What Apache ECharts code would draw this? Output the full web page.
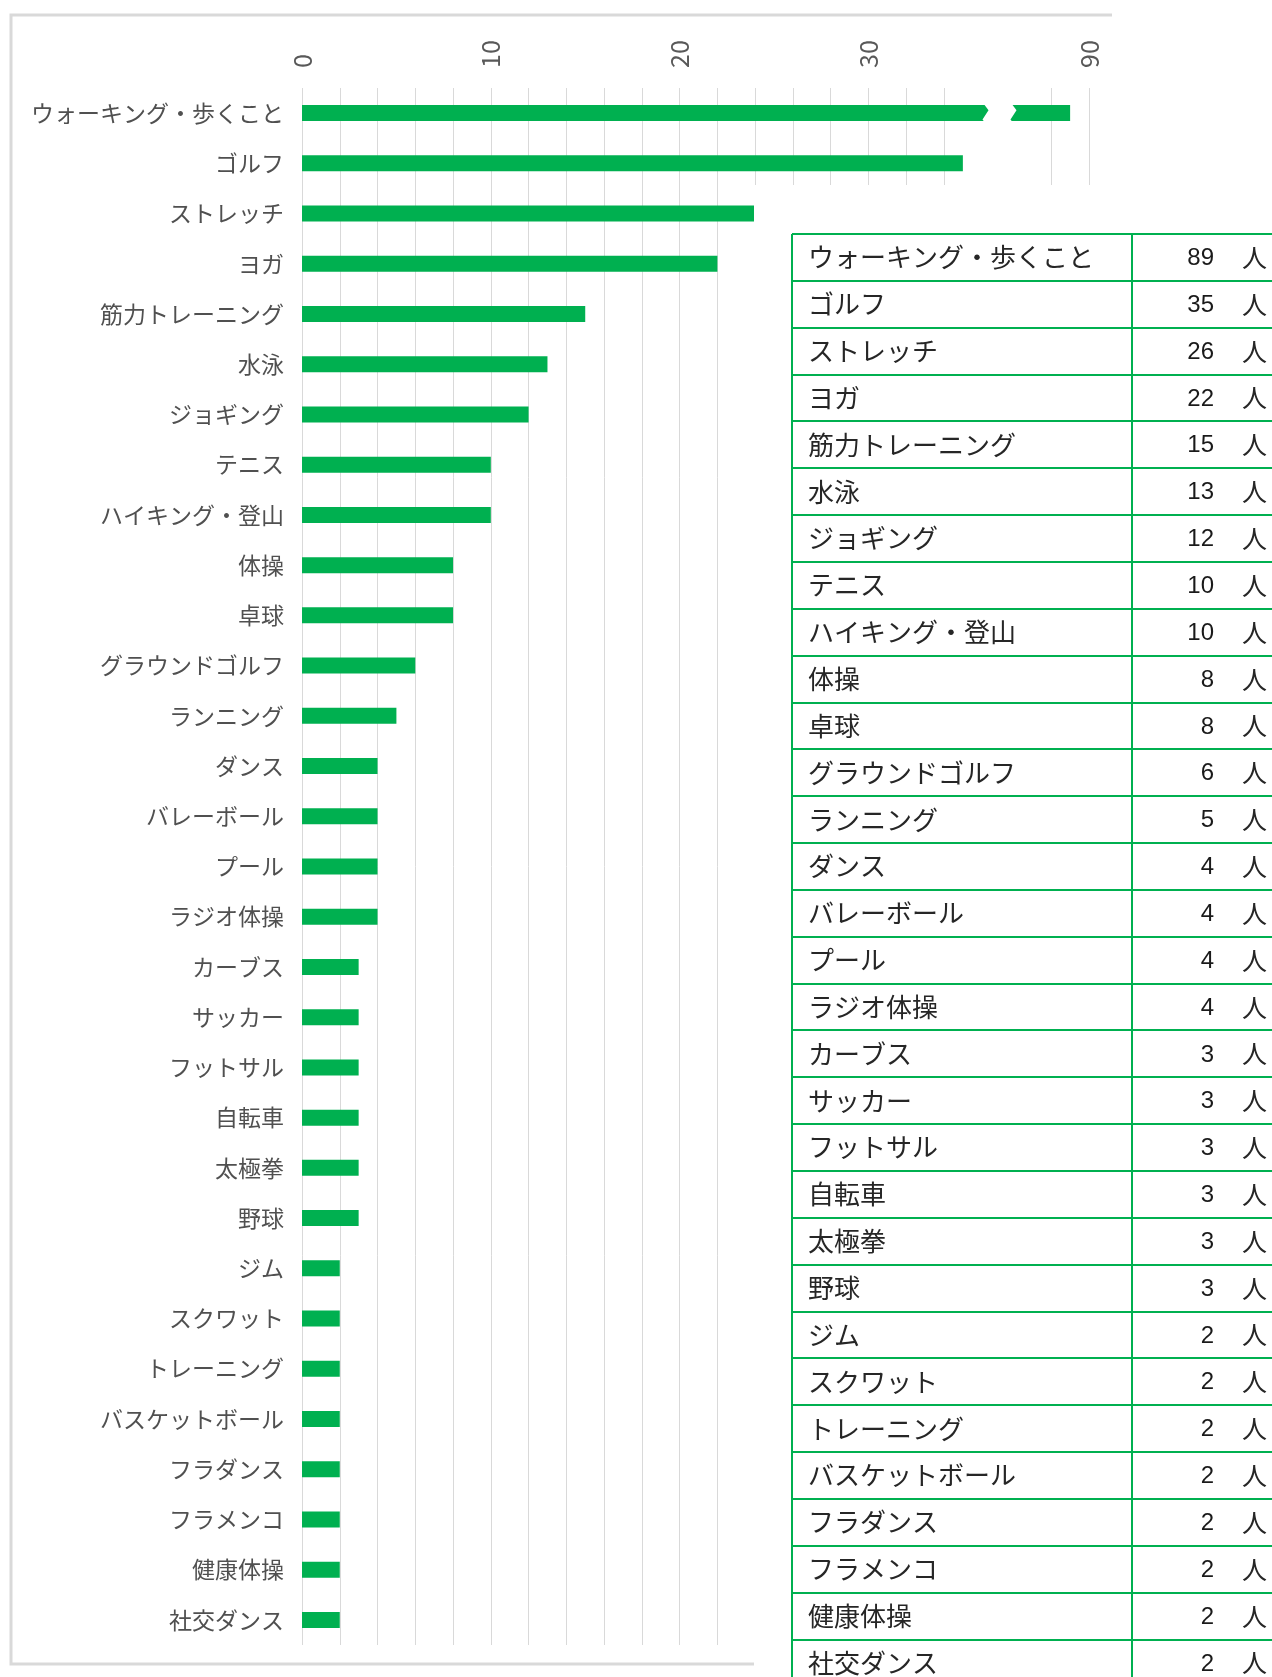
<!DOCTYPE html>
<html>
<head>
<meta charset="utf-8">
<script src="https://cdn.jsdelivr.net/npm/echarts@6/dist/echarts.min.js"></script>
<style>
  html, body { margin: 0; padding: 0; background: #ffffff; }
  #chart { width: 1272px; height: 1677px; }
</style>
</head>
<body>
<div id="chart"></div>
<script>
// 種目ごとの回答人数
const categories = [
  'ウォーキング・歩くこと', 'ゴルフ', 'ストレッチ', 'ヨガ', '筋力トレーニング',
  '水泳', 'ジョギング', 'テニス', 'ハイキング・登山', '体操', '卓球',
  'グラウンドゴルフ', 'ランニング', 'ダンス', 'バレーボール', 'プール',
  'ラジオ体操', 'カーブス', 'サッカー', 'フットサル', '自転車', '太極拳',
  '野球', 'ジム', 'スクワット', 'トレーニング', 'バスケットボール',
  'フラダンス', 'フラメンコ', '健康体操', '社交ダンス'
];
const counts = [
  89, 35, 26, 22, 15,
  13, 12, 10, 10, 8, 8,
  6, 5, 4, 4, 4,
  4, 3, 3, 3, 3, 3,
  3, 2, 2, 2, 2,
  2, 2, 2, 2
];
const axisTickLabels = [0, 10, 20, 30, 90];
const unitLabel = '人';

const GREEN = '#00b050';
const JP_SANS = '"Noto Sans CJK JP", "Noto Sans", sans-serif';

const chart = echarts.init(document.getElementById('chart'), null, { renderer: 'canvas' });

// 集計表（グラフの右下に重ねる）
const table = { x: 792, y: 234, divX: 1132, right: 1274, rowH: 46.85 };
const graphics = [];

// グラフエリアの枠線
graphics.push({
  type: 'polyline', z: 1,
  shape: { points: [[1112, 15], [11, 15], [11, 1664], [760, 1664]] },
  style: { fill: null, stroke: '#d9d9d9', lineWidth: 3 }
});

// 表の背景（白）
graphics.push({
  type: 'rect', z: 100,
  shape: { x: 754, y: 185, width: 530, height: 1500 },
  style: { fill: '#ffffff' }
});

const tableBottom = table.y + categories.length * table.rowH;
for (let i = 0; i <= categories.length; i++) {
  const y = Math.round(table.y + i * table.rowH);
  graphics.push({
    type: 'line', z: 101,
    shape: { x1: table.x, y1: y, x2: table.right, y2: y },
    style: { stroke: GREEN, lineWidth: 2 }
  });
}
[table.x, table.divX, table.right].forEach(function (x) {
  graphics.push({
    type: 'line', z: 101,
    shape: { x1: x, y1: table.y, x2: x, y2: tableBottom },
    style: { stroke: GREEN, lineWidth: 2 }
  });
});
categories.forEach(function (name, i) {
  const cy = table.y + (i + 0.5) * table.rowH;
  graphics.push({
    type: 'text', z: 102, x: 808, y: cy,
    style: { text: name, font: '26px ' + JP_SANS, fill: '#262626', align: 'left', verticalAlign: 'middle' }
  });
  graphics.push({
    type: 'text', z: 102, x: 1214, y: cy + 1,
    style: { text: String(counts[i]), font: '24px "Liberation Sans", Arial, sans-serif', fill: '#1a1a1a', align: 'right', verticalAlign: 'middle' }
  });
  graphics.push({
    type: 'text', z: 102, x: 1242, y: cy,
    style: { text: unitLabel, font: '25px ' + JP_SANS, fill: '#262626', align: 'left', verticalAlign: 'middle' }
  });
});

chart.setOption({
  animation: false,
  backgroundColor: '#ffffff',
  grid: { left: 302, top: 88, width: 787, height: 1557, containLabel: false },
  xAxis: {
    type: 'value',
    position: 'top',
    min: 0,
    max: 90,
    interval: 2,
    // 36〜86 の区間を省略して表示
    breaks: [{ start: 36.2, end: 86, gap: 1.48 }],
    breakArea: {
      show: true,
      itemStyle: { color: '#ffffff', borderColor: '#ffffff', borderWidth: 0, opacity: 1 },
      zigzagAmplitude: 3,
      zigzagMinSpan: 6,
      zigzagMaxSpan: 12
    },
    axisLine: { show: false },
    axisTick: { show: false },
    axisLabel: {
      rotate: -90,
      margin: 20,
      color: '#595959',
      fontSize: 25,
      fontFamily: JP_SANS,
      formatter: function (v) { return axisTickLabels.indexOf(v) >= 0 ? String(v) : ''; }
    },
    splitLine: { show: true, lineStyle: { color: '#d9d9d9', width: 1 } }
  },
  yAxis: {
    type: 'category',
    data: categories,
    inverse: true,
    axisLine: { show: false },
    axisTick: { show: false },
    axisLabel: { color: '#505050', fontSize: 23, fontFamily: JP_SANS, margin: 18 }
  },
  series: [{
    type: 'bar',
    data: counts,
    barWidth: 16,
    itemStyle: { color: GREEN }
  }],
  graphic: { elements: graphics }
});
</script>
</body>
</html>
